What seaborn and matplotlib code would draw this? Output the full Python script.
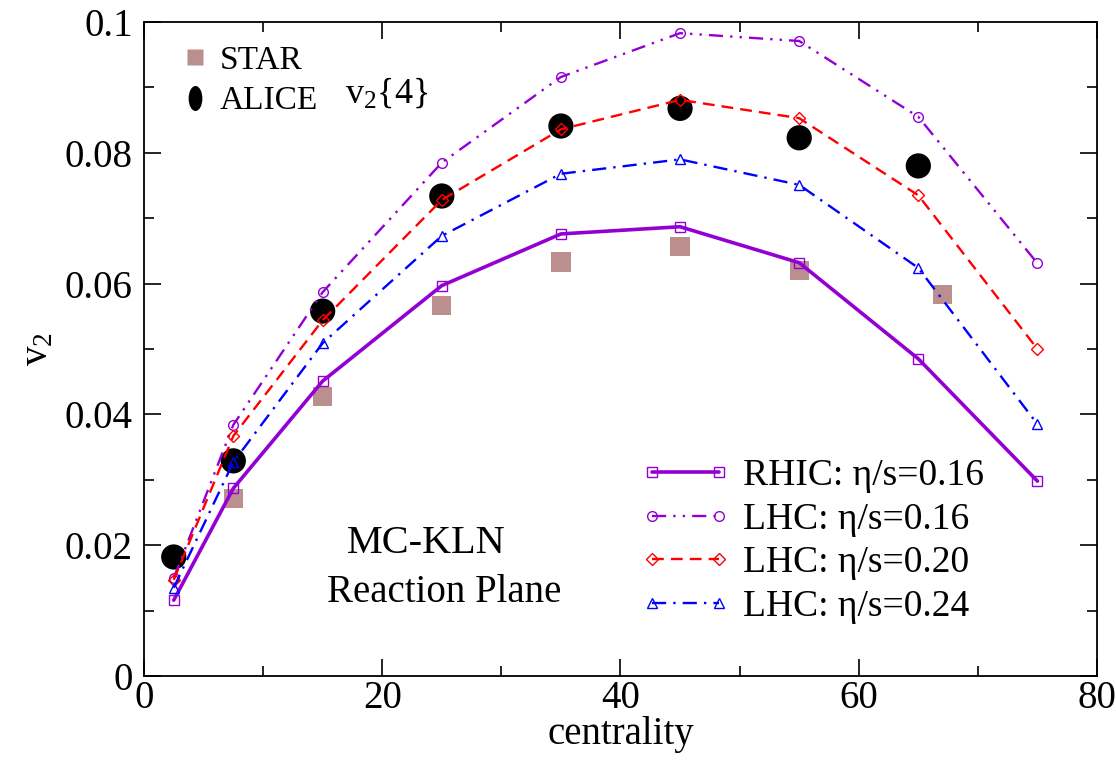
import matplotlib
matplotlib.use('Agg')
import matplotlib.pyplot as plt
from matplotlib.lines import Line2D
from matplotlib.markers import MarkerStyle
from matplotlib.transforms import Affine2D
import seaborn as sb
import pandas as pd

# data
cent = [2.5, 7.5, 15, 25, 35, 45, 55, 65, 75]
rhic_016 = [0.0116, 0.0287, 0.0451, 0.0597, 0.0676, 0.0687, 0.0632, 0.0485, 0.0298]
lhc_016 = [0.0150, 0.0384, 0.0587, 0.0785, 0.0916, 0.0983, 0.0971, 0.0855, 0.0631]
lhc_020 = [0.0147, 0.0367, 0.0544, 0.0728, 0.0836, 0.0881, 0.0853, 0.0735, 0.0500]
lhc_024 = [0.0135, 0.0327, 0.0509, 0.0673, 0.0768, 0.0790, 0.0751, 0.0624, 0.0385]

star_x = [7.5, 15, 25, 35, 45, 55, 67]
star_v2 = [0.0272, 0.0427, 0.0566, 0.0633, 0.0657, 0.0620, 0.0583]
alice_x = [2.5, 7.5, 15, 25, 35, 45, 55, 65]
alice_v2 = [0.0182, 0.0329, 0.0558, 0.0734, 0.0841, 0.0868, 0.0823, 0.0780]

# plot style
sb.set_style("ticks", {'text.color': 'black', 'axes.labelcolor': 'black',
                       'xtick.color': 'black', 'ytick.color': 'black',
                       'axes.edgecolor': 'black'})
plt.rcParams['font.family'] = ['Liberation Serif', 'DejaVu Serif']
plt.rcParams['mathtext.fontset'] = 'custom'
plt.rcParams['mathtext.rm'] = 'Liberation Serif'
plt.rcParams['mathtext.it'] = 'Liberation Serif:italic'

purple = '#9400d3'
fig = plt.figure(figsize=(11.16, 7.6), dpi=100)
ax = fig.add_axes([0.129, 0.1105, 0.854, 0.8605])

# experimental data
sb.scatterplot(x=star_x, y=star_v2, marker='s', s=190, color='#bc8f8f',
               edgecolor='none', ax=ax, zorder=2)
sb.scatterplot(x=alice_x, y=alice_v2, marker='o', s=330, color='black',
               edgecolor='none', ax=ax, zorder=2)

# hydro curves
curves = [
    (rhic_016, 'RHIC: η/s=0.16', purple, '-', 's', 2.6),
    (lhc_016, 'LHC: η/s=0.16', purple, (0, (6, 3, 1, 3, 1, 3)), 'o', 1.7),
    (lhc_020, 'LHC: η/s=0.20', 'red', (0, (5, 3)), 'D', 1.7),
    (lhc_024, 'LHC: η/s=0.24', 'blue', (0, (6, 3, 1, 3)), '^', 1.7),
]
handles = []
for vals, lab, col, ls, mk, lw in curves:
    ms = 6 if mk == 'D' else 7
    sb.lineplot(x=cent, y=vals, color=col, linestyle=ls, linewidth=lw,
                marker=mk, markersize=ms, markerfacecolor='none',
                markeredgecolor=col, markeredgewidth=1.0, ax=ax, zorder=3)
    handles.append(Line2D([], [], color=col, linestyle=ls, linewidth=lw,
                          marker=mk, markersize=ms, markerfacecolor='none',
                          markeredgecolor=col, markeredgewidth=1.0, label=lab))

leg1 = ax.legend(handles=handles, loc='upper left', bbox_to_anchor=(0.505, 0.355),
                 frameon=False, fontsize=27, numpoints=2, handlelength=2.4,
                 handletextpad=0.35, labelspacing=0.24, borderaxespad=0)
ax.add_artist(leg1)

alice_mk = MarkerStyle('o', transform=Affine2D().scale(0.55, 1.0))
exp_handles = [
    Line2D([], [], linestyle='none', marker='s', markersize=11,
           color='#bc8f8f', markeredgecolor='none', label='STAR'),
    Line2D([], [], linestyle='none', marker=alice_mk, markersize=18,
           color='black', markeredgecolor='none', label='ALICE'),
]
ax.legend(handles=exp_handles, loc='upper left', bbox_to_anchor=(0.022, 0.985),
          frameon=False, fontsize=24, handletextpad=0.25, labelspacing=0.3,
          handlelength=1.0, borderaxespad=0)

ax.text(0.211, 0.876, 'v$_2${4}', transform=ax.transAxes, fontsize=26,
        va='baseline')
ax.text(0.213, 0.188, 'MC-KLN', transform=ax.transAxes, fontsize=29,
        va='baseline')
ax.text(0.192, 0.113, 'Reaction Plane', transform=ax.transAxes, fontsize=28,
        va='baseline')

ax.set_xlim(0, 80)
ax.set_ylim(0, 0.1)
ax.set_xticks([0, 20, 40, 60, 80])
ax.set_xticks([10, 30, 50, 70], minor=True)
ax.set_yticks([0, 0.02, 0.04, 0.06, 0.08, 0.1])
ax.set_yticklabels(['0', '0.02', '0.04', '0.06', '0.08', '0.1'])
ax.set_yticks([0.01, 0.03, 0.05, 0.07, 0.09], minor=True)
ax.tick_params(which='both', direction='in', top=True, right=True, width=1.2)
ax.tick_params(which='major', length=12, labelsize=28)
ax.tick_params(axis='x', which='major', pad=3)
ax.tick_params(axis='y', which='major', pad=8)
ax.tick_params(which='minor', length=7)
for sp in ax.spines.values():
    sp.set_linewidth(1.3)

ax.set_xlabel('centrality', fontsize=28, labelpad=-1)
ax.set_ylabel('v$_2$', fontsize=28, labelpad=6)

plt.savefig('out.png', dpi=100)
